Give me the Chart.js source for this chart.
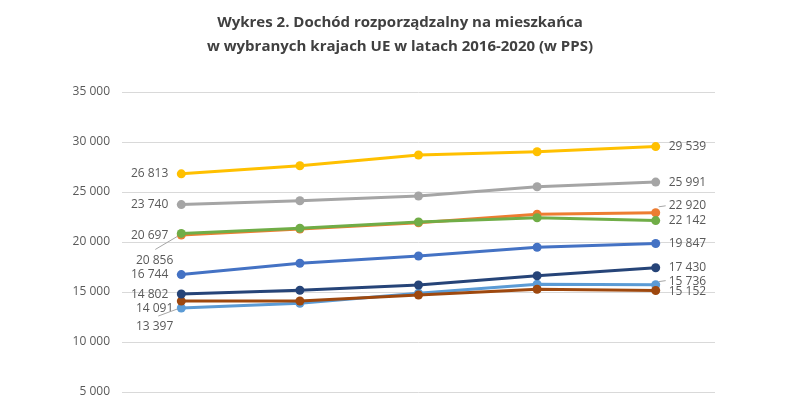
<!DOCTYPE html>
<html>
<head>
<meta charset="utf-8">
<script src="https://cdn.jsdelivr.net/npm/chart.js@4.4.0/dist/chart.umd.min.js"></script>
<style>
  html, body { margin: 0; padding: 0; background: #fff; overflow: hidden; }
  #wrap { width: 788px; height: 415px; }
</style>
</head>
<body>
<div id="wrap"><canvas id="incomeChart"></canvas></div>
<script>
// Data (PPS per capita)
const years = ['2016', '2017', '2018', '2019', '2020'];
const yellowVals    = [26813, 27630, 28700, 29030, 29539];
const grayVals      = [23740, 24130, 24600, 25530, 25991];
const greenVals     = [20856, 21370, 22000, 22430, 22142];
const orangeVals    = [20697, 21300, 21930, 22770, 22920];
const blueVals      = [16744, 17870, 18600, 19470, 19847];
const navyVals      = [14802, 15170, 15700, 16630, 17430];
const brownVals     = [14091, 14100, 14700, 15270, 15152];
const lightBlueVals = [13397, 13870, 14870, 15770, 15736];
const yTicks = [5000, 10000, 15000, 20000, 25000, 30000, 35000];

const titleLines = [
    'Wykres 2. Dochód rozporządzalny na mieszkańca',
    'w wybranych krajach UE w latach 2016-2020 (w PPS)'
];

function fmt(v) {
    return String(v).replace(/\B(?=(\d{3})+(?!\d))/g, ' ');
}

// Label placement for first / last point of each series (style only)
const labelLayout = {
    yellow:    { first: { dx: -13, dy: 0 },  last: { dx: 13, dy: 0 } },
    gray:      { first: { dx: -13, dy: 0 },  last: { dx: 13, dy: 0 } },
    green:     { first: { dx: -8, dy: 27, leader: [-26, 16, -4, 3] }, last: { dx: 13, dy: 0 } },
    orange:    { first: { dx: -13, dy: 1 },  last: { dx: 13, dy: -7, leader: [3, -6, 10, -7] } },
    blue:      { first: { dx: -13, dy: 0 },  last: { dx: 13, dy: 0 } },
    navy:      { first: { dx: -13, dy: 1 },  last: { dx: 13, dy: 0 } },
    brown:     { first: { dx: -8, dy: 7 },   last: { dx: 13, dy: 1 } },
    lightBlue: { first: { dx: -8, dy: 19, leader: [-23, 8, -4, 1] }, last: { dx: 13, dy: -3, leader: [3, -3, 10, -4] } }
};

const titlePlugin = {
    id: 'twoLineTitle',
    beforeDraw(chart) {
        const ctx = chart.ctx;
        ctx.save();
        ctx.font = "bold 15px 'Open Sans'";
        ctx.fillStyle = '#404040';
        ctx.textAlign = 'center';
        ctx.textBaseline = 'middle';
        ctx.fillText(titleLines[0], 400, 23);
        ctx.fillText(titleLines[1], 400, 47);
        ctx.restore();
    }
};

const pointLabels = {
    id: 'pointLabels',
    afterDatasetsDraw(chart) {
        const ctx = chart.ctx;
        ctx.save();
        ctx.font = "12px 'Open Sans'";
        ctx.fillStyle = '#595959';
        ctx.strokeStyle = '#a6a6a6';
        ctx.lineWidth = 1;
        ctx.textBaseline = 'middle';
        chart.data.datasets.forEach((ds, i) => {
            const meta = chart.getDatasetMeta(i);
            const lay = labelLayout[ds.label];
            const ends = [[0, lay.first, 'right'], [meta.data.length - 1, lay.last, 'left']];
            ends.forEach(([idx, o, align]) => {
                const pt = meta.data[idx];
                ctx.textAlign = align;
                ctx.fillText(fmt(ds.data[idx]), pt.x + o.dx, pt.y + o.dy);
                if (o.leader) {
                    ctx.beginPath();
                    ctx.moveTo(pt.x + o.leader[0], pt.y + o.leader[1]);
                    ctx.lineTo(pt.x + o.leader[2], pt.y + o.leader[3]);
                    ctx.stroke();
                }
            });
        });
        ctx.restore();
    }
};

function series(label, data, color) {
    return {
        label: label,
        data: data,
        borderColor: color,
        backgroundColor: color,
        borderWidth: 3,
        pointRadius: 4.5,
        pointBackgroundColor: color,
        pointBorderColor: color,
        pointBorderWidth: 0,
        tension: 0
    };
}

const ctx = document.getElementById('incomeChart').getContext('2d');
new Chart(ctx, {
    type: 'line',
    data: {
        labels: years,
        // index 0 is drawn on top
        datasets: [
            series('yellow', yellowVals, '#ffc000'),
            series('gray', grayVals, '#a5a5a5'),
            series('green', greenVals, '#70ad47'),
            series('orange', orangeVals, '#ed7d31'),
            series('blue', blueVals, '#4472c4'),
            series('navy', navyVals, '#264478'),
            series('brown', brownVals, '#9e480e'),
            series('lightBlue', lightBlueVals, '#5b9bd5')
        ]
    },
    options: {
        responsive: true,
        maintainAspectRatio: false,
        animation: false,
        layout: { padding: { top: 92, right: 73, bottom: 23, left: 0 } },
        plugins: {
            legend: { display: false },
            title: { display: false },
            tooltip: { enabled: false }
        },
        scales: {
            x: { display: false, offset: true },
            y: {
                min: 5000,
                max: 35000,
                afterFit(scale) { scale.width = 122; },
                afterBuildTicks(scale) { scale.ticks = yTicks.map(v => ({ value: v })); },
                border: { display: false },
                grid: { color: '#d9d9d9', lineWidth: 1, drawTicks: false },
                ticks: {
                    padding: 12,
                    color: '#595959',
                    font: { family: "'Open Sans'", size: 12 },
                    callback: v => fmt(v)
                }
            }
        }
    },
    plugins: [titlePlugin, pointLabels]
});
</script>
</body>
</html>
